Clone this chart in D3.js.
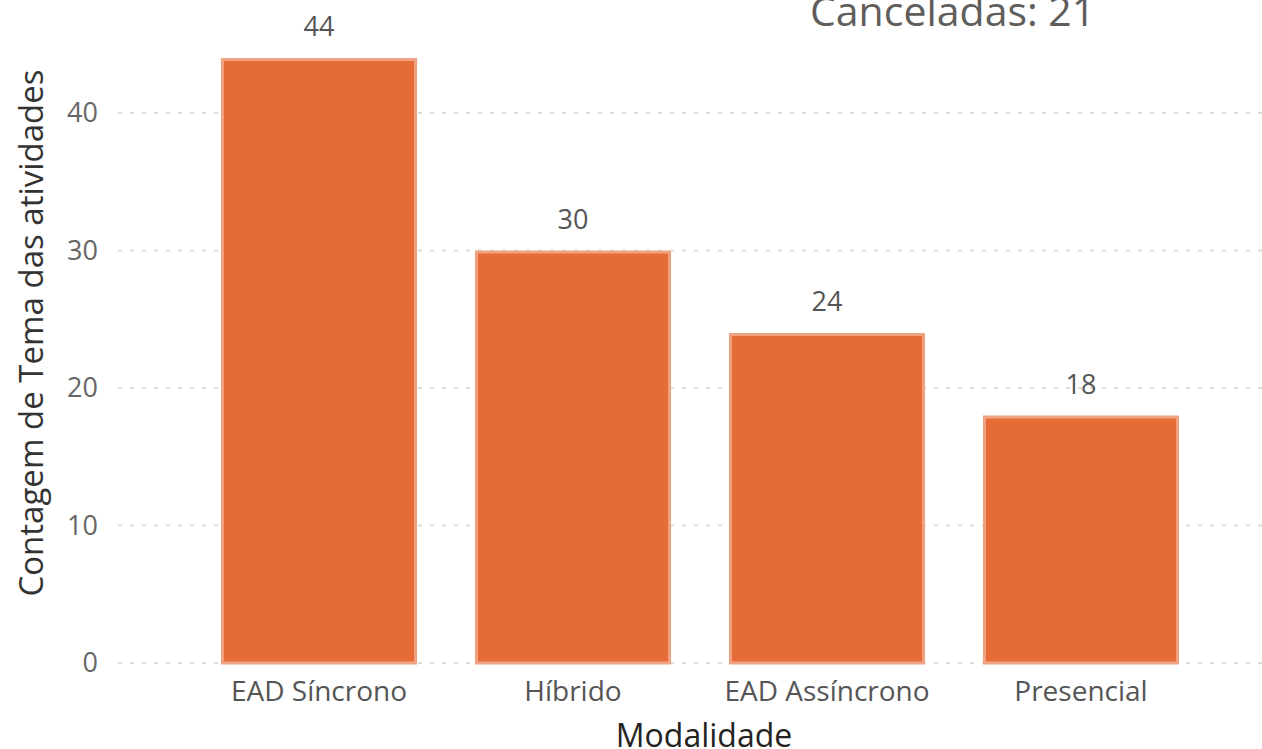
<!DOCTYPE html>
<html>
<head>
	<meta charset="utf-8">
	<title>Modalidade</title>
	<script src="https://d3js.org/d3.v7.min.js"></script>
	<style>
		body { margin: 0; background: #fff; }
		text { font-family: "Segoe UI", "Open Sans", "Noto Sans", sans-serif; }
	</style>
</head>
<body>
	<script type="text/javascript">

		// Data
		var categories = ['EAD Síncrono', 'Híbrido', 'EAD Assíncrono', 'Presencial'];
		var counts = [44, 30, 24, 18];
		var yTicks = [0, 10, 20, 30, 40];
		var cancelled = 21;

		var width = 1262, height = 749;

		var svg = d3.select('body')
					.append('svg')
					.attr('width', width)
					.attr('height', height);

		// Scales
		var x = d3.scaleBand()
				  .domain(categories)
				  .range([192, 1208])
				  .paddingInner(0.228)
				  .paddingOuter(0.114);

		var y = d3.scaleLinear()
				  .domain([0, 40])
				  .range([663, 113]);

		// Grid lines
		svg.append('g')
		   .selectAll('line')
		   .data(yTicks)
		   .enter()
		   .append('line')
		   .attr('x1', 118)
		   .attr('x2', width)
		   .attr('y1', function(d) { return y(d); })
		   .attr('y2', function(d) { return y(d); })
		   .attr('stroke', '#dcdcdc')
		   .attr('stroke-width', 2)
		   .attr('stroke-dasharray', '4,8');

		// Y axis
		var yAxis = svg.append('g')
					   .attr('transform', 'translate(98,0)')
					   .call(d3.axisLeft(y).tickValues(yTicks).tickSize(0).tickPadding(0));
		yAxis.select('.domain').remove();
		yAxis.selectAll('text')
			 .attr('fill', '#666')
			 .style('font-size', '27px');

		// Bars
		svg.append('g')
		   .selectAll('rect')
		   .data(counts)
		   .enter()
		   .append('rect')
		   .attr('x', function(d, i) { return x(categories[i]) + 1.5; })
		   .attr('y', function(d) { return y(d) + 1.5; })
		   .attr('width', x.bandwidth() - 3)
		   .attr('height', function(d) { return y(0) - y(d) - 1.5; })
		   .attr('fill', '#E56C37')
		   .attr('stroke', '#F0A382')
		   .attr('stroke-width', 3);

		// Data labels
		svg.append('g')
		   .selectAll('text')
		   .data(counts)
		   .enter()
		   .append('text')
		   .attr('x', function(d, i) { return x(categories[i]) + x.bandwidth() / 2; })
		   .attr('y', function(d) { return y(d) - 22; })
		   .style('text-anchor', 'middle')
		   .style('font-size', '27px')
		   .attr('fill', '#555')
		   .text(function(d) { return d; });

		// X axis
		var xAxis = svg.append('g')
					   .attr('transform', 'translate(0,' + y(0) + ')')
					   .call(d3.axisBottom(x).tickSize(0).tickPadding(18));
		xAxis.select('.domain').remove();
		xAxis.selectAll('text')
			 .attr('fill', '#555')
			 .style('font-size', '28px');

		// Axis titles
		svg.append('text')
		   .attr('x', 704)
		   .attr('y', 747)
		   .style('text-anchor', 'middle')
		   .style('font-size', '32px')
		   .attr('fill', '#252423')
		   .text('Modalidade');

		svg.append('text')
		   .attr('transform', 'translate(43,333) rotate(-90)')
		   .style('text-anchor', 'middle')
		   .style('font-size', '33px')
		   .attr('fill', '#333')
		   .text('Contagem de Tema das atividades');

		// Cancelled count
		svg.append('text')
		   .attr('x', 810)
		   .attr('y', 26)
		   .style('font-size', '41px')
		   .attr('fill', '#605E5C')
		   .text('Canceladas: ' + cancelled);

	</script>
</body>
</html>
